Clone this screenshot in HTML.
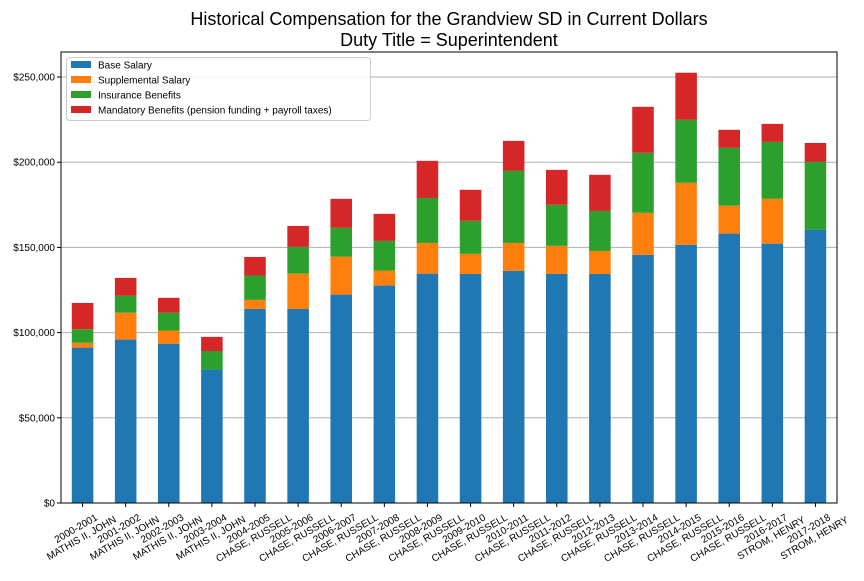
<!DOCTYPE html>
<html><head><meta charset="utf-8"><style>
body{margin:0;background:#fff;font-family:"Liberation Sans","DejaVu Sans",sans-serif}
</style></head><body>
<svg id="chart" width="864" height="576" xmlns="http://www.w3.org/2000/svg" font-family="Liberation Sans, DejaVu Sans, sans-serif">
<text x="449" y="25" font-size="18" text-anchor="middle">Historical Compensation for the Grandview SD in Current Dollars</text>
<text x="449" y="46" font-size="18" text-anchor="middle">Duty Title = Superintendent</text>
<g id="grid"></g><g id="bars"></g><g id="axes"></g><g id="legend"></g>
</svg>
<script>
const categories=["2000-2001|MATHIS II, JOHN","2001-2002|MATHIS II, JOHN","2002-2003|MATHIS II, JOHN","2003-2004|MATHIS II, JOHN","2004-2005|CHASE, RUSSELL","2005-2006|CHASE, RUSSELL","2006-2007|CHASE, RUSSELL","2007-2008|CHASE, RUSSELL","2008-2009|CHASE, RUSSELL","2009-2010|CHASE, RUSSELL","2010-2011|CHASE, RUSSELL","2011-2012|CHASE, RUSSELL","2012-2013|CHASE, RUSSELL","2013-2014|CHASE, RUSSELL","2014-2015|CHASE, RUSSELL","2015-2016|CHASE, RUSSELL","2016-2017|STROM, HENRY","2017-2018|STROM, HENRY"];
const baseSalary=[91200,95900,93500,78300,113900,113900,122300,127600,134600,134400,136200,134400,134400,145600,151500,158100,152200,160400];
const supplementalSalary=[2800,15800,7700,0,5300,20700,22300,8800,18000,11800,16400,16500,13500,24700,36400,16400,26300,0];
const insuranceBenefits=[8000,10000,10500,10900,14300,15700,16900,17400,26400,19400,42300,24100,23500,35200,37000,33900,33400,39800];
const mandatoryBenefits=[15400,10400,8700,8300,10900,12300,17000,15900,21800,18200,17600,20500,21200,27000,27600,10600,10600,11100];
const yTicks=[0,50000,100000,150000,200000,250000];
const yTickLabels=["$0","$50,000","$100,000","$150,000","$200,000","$250,000"];
const seriesNames=["Base Salary","Supplemental Salary","Insurance Benefits","Mandatory Benefits (pension funding + payroll taxes)"];
const colors=["#1f77b4","#ff7f0e","#2ca02c","#d62728"];
const NS="http://www.w3.org/2000/svg";
const L=61,R=837,T=52,B=503;
const y=v=>B-v*(426/250000);
const step=(R-L)/categories.length;
const x=i=>L+step*(i+0.5);
function mk(tag,attrs,parent){const e=document.createElementNS(NS,tag);for(const k in attrs)e.setAttribute(k,attrs[k]);parent.appendChild(e);return e;}
const grid=document.getElementById('grid'),bars=document.getElementById('bars'),axes=document.getElementById('axes'),legend=document.getElementById('legend');
yTicks.forEach((t,i)=>{
  if(t>0){const g=mk('line',{x1:L,x2:R,y1:y(t),y2:y(t),stroke:'#b0b0b0','stroke-width':1},grid);
  
  }
  const tk=mk('line',{x1:L-4,x2:L,y1:y(t),y2:y(t),stroke:'#000'},axes);
  
  
  const tx=mk('text',{x:L-6,y:y(t)+3.5,'font-size':10,'text-anchor':'end'},axes);tx.textContent=yTickLabels[i];
  
  
});
const series=[baseSalary,supplementalSalary,insuranceBenefits,mandatoryBenefits];
const bw=step*0.5;
categories.forEach((c,i)=>{
  let cum=0;
  series.forEach((s,k)=>{
    const v=s[i];if(v<=0)return;
    const r=mk('rect',{x:x(i)-bw/2,y:y(cum+v),width:bw,height:y(cum)-y(cum+v),fill:colors[k]},bars);
    
    
    cum+=v;
  });
  const tk=mk('line',{x1:x(i),x2:x(i),y1:B,y2:B+4,stroke:'#000'},axes);
  
  
  const parts=c.split('|');
  const tx=mk('text',{'font-size':10,'text-anchor':'middle',transform:`translate(${x(i)-4},${B+30}) rotate(-30)`},axes);
  
  
  const a=mk('tspan',{x:0,y:-2},tx);a.textContent=parts[0];
  const b=mk('tspan',{x:0,y:9},tx);b.textContent=parts[1];
});
const fr=mk('rect',{x:L,y:T,width:R-L,height:B-T,fill:'none',stroke:'#000','stroke-width':1},axes);


const lb=mk('rect',{x:66.5,y:57.5,width:304,height:63,rx:3,fill:'#fff','fill-opacity':0.85,stroke:'#ccc'},legend);


seriesNames.forEach((n,k)=>{
  const g=mk('g',{},legend);
  
  
  mk('rect',{x:71,y:61+k*15,width:20,height:7,fill:colors[k]},g);
  const t=mk('text',{x:98,y:68.5+k*15,'font-size':10},g);t.textContent=n;
});
</script>
</body></html>
